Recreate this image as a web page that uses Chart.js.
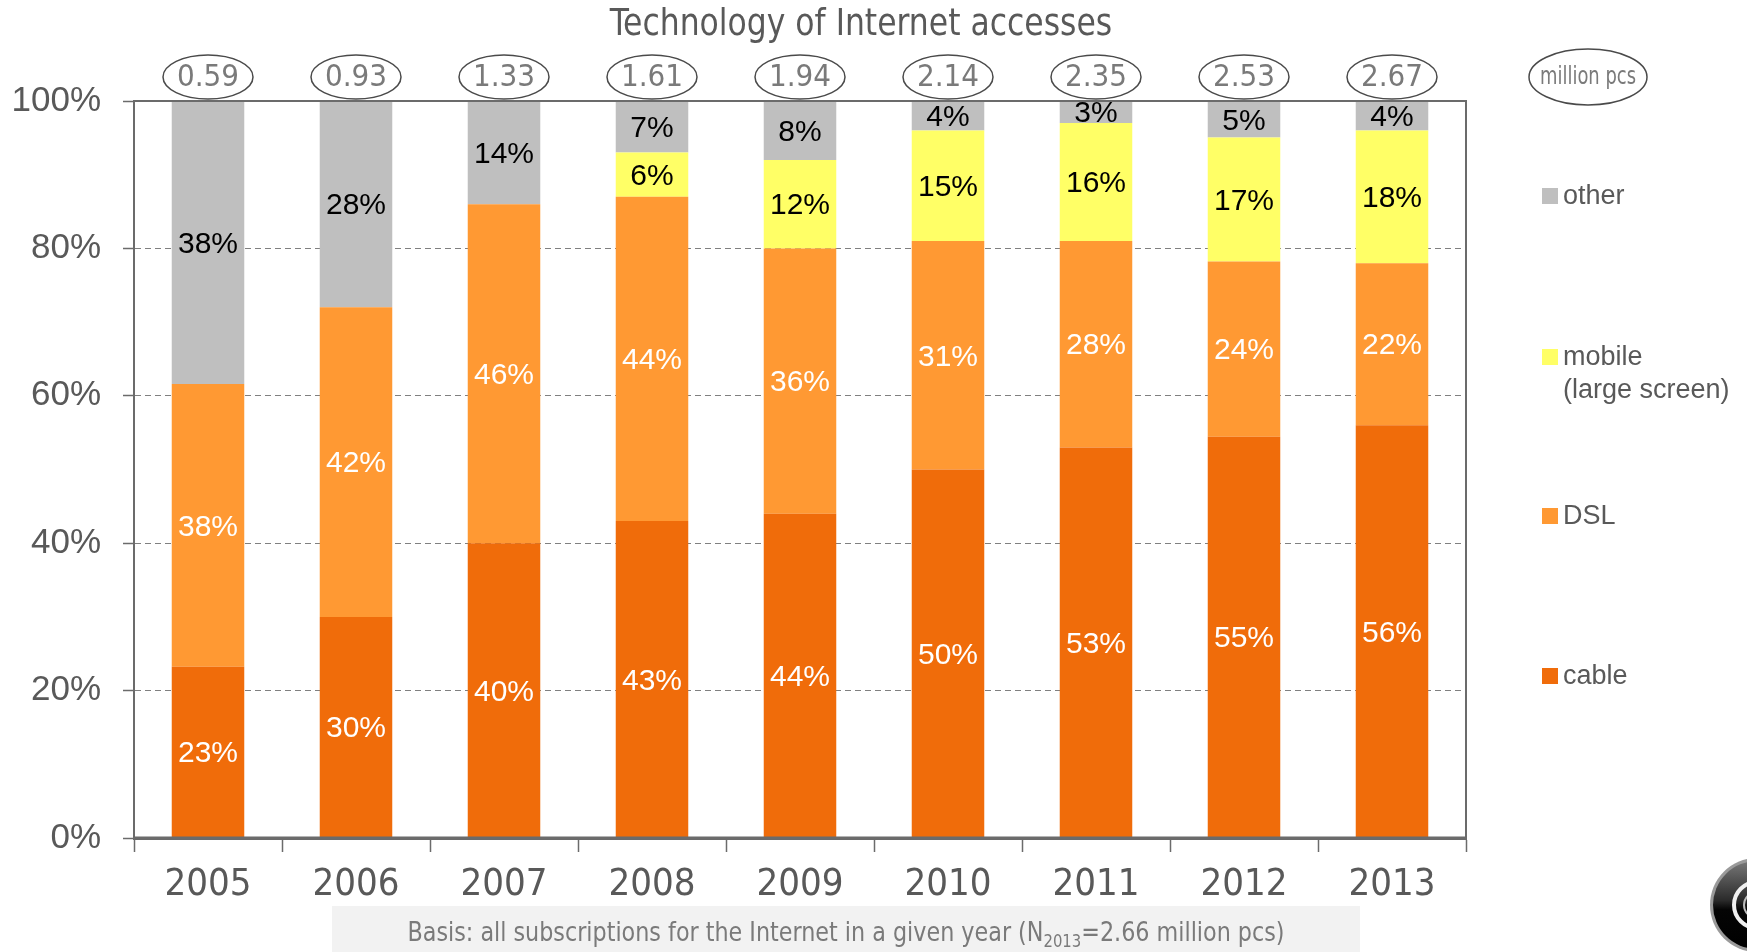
<!DOCTYPE html>
<html>
<head>
<meta charset="utf-8">
<title>Technology of Internet accesses</title>
<script src="https://cdn.jsdelivr.net/npm/chart.js@4.4.1/dist/chart.umd.min.js"></script>
<style>
  html, body { margin: 0; padding: 0; background: #ffffff; }
  canvas { display: block; }
</style>
</head>
<body>
<canvas id="chart" width="1747" height="952"></canvas>
<script>
// Years shown on the category axis
const years = ['2005', '2006', '2007', '2008', '2009', '2010', '2011', '2012', '2013'];
// Total number of subscriptions per year, million pcs
const totalsMillion = [0.59, 0.93, 1.33, 1.61, 1.94, 2.14, 2.35, 2.53, 2.67];
// Share of each access technology per year, %
const cableShare  = [23, 30, 40, 43, 44, 50, 53, 55, 56];
const dslShare    = [38, 42, 46, 44, 36, 31, 28, 24, 22];
const mobileShare = [0, 0, 0, 6, 12, 15, 16, 17, 18];
const otherShare  = [38, 28, 14, 7, 8, 4, 3, 5, 4];
// Value axis ticks, %
const yTicks = [0, 20, 40, 60, 80, 100];

const NARROW = '"DejaVu Sans Condensed", "Liberation Sans", sans-serif';
const SANS = '"Liberation Sans", Arial, sans-serif';
const AXIS = '#6b6b6b';
const TEXT = '#595959';

// 100% stacked columns: every year's bar is scaled to the full height
const yearSums = years.map((_, i) => cableShare[i] + dslShare[i] + mobileShare[i] + otherShare[i]);
const toStackShare = arr => arr.map((v, i) => v / yearSums[i] * 100);

const series = [
  { label: 'cable',  legend: ['cable'], values: cableShare,  color: '#F06C0A', text: '#ffffff' },
  { label: 'DSL',    legend: ['DSL'], values: dslShare,    color: '#FF9933', text: '#ffffff' },
  { label: 'mobile (large screen)', legend: ['mobile', '(large screen)'], values: mobileShare, color: '#FFFF66', text: '#000000' },
  { label: 'other',  legend: ['other'], values: otherShare,  color: '#BFBFBF', text: '#000000' }
];

const datasets = series.map(s => ({
  label: s.label,
  data: toStackShare(s.values),
  raw: s.values,
  legendLines: s.legend,
  labelColor: s.text,
  backgroundColor: s.color,
  borderWidth: 0,
  barPercentage: 0.49,
  categoryPercentage: 1.0
}));

function drawEllipse(ctx, cx, cy, rx, ry) {
  ctx.beginPath();
  ctx.ellipse(cx, cy, rx, ry, 0, 0, Math.PI * 2);
  ctx.stroke();
}

// text squeezed horizontally around its anchor point
function fillSqueezed(ctx, text, x, y, sx) {
  ctx.save();
  ctx.translate(x, y);
  ctx.scale(sx, 1);
  ctx.fillText(text, 0, 0);
  ctx.restore();
}

const decorations = {
  id: 'decorations',
  afterDatasetsDraw(chart) {
    const ctx = chart.ctx;
    ctx.save();
    ctx.font = '30px ' + SANS;
    ctx.textAlign = 'center';
    ctx.textBaseline = 'middle';
    chart.data.datasets.forEach((ds, di) => {
      const meta = chart.getDatasetMeta(di);
      meta.data.forEach((bar, i) => {
        const v = ds.raw[i];
        if (!v) return;
        ctx.fillStyle = ds.labelColor;
        ctx.fillText(v + '%', bar.x, (bar.y + bar.base) / 2 + 2);
      });
    });
    ctx.restore();
  },
  afterDraw(chart) {
    const { ctx, chartArea: a, scales: { x } } = chart;
    ctx.save();

    // plot frame
    ctx.strokeStyle = AXIS;
    ctx.lineWidth = 2;
    ctx.beginPath();
    ctx.moveTo(a.left, a.bottom);
    ctx.lineTo(a.left, a.top);
    ctx.lineTo(a.right, a.top);
    ctx.lineTo(a.right, a.bottom);
    ctx.stroke();
    ctx.lineWidth = 3;
    ctx.beginPath();
    ctx.moveTo(a.left - 1, a.bottom);
    ctx.lineTo(a.right + 1, a.bottom);
    ctx.stroke();

    // title
    ctx.fillStyle = TEXT;
    ctx.font = '38px ' + NARROW;
    ctx.textAlign = 'center';
    ctx.textBaseline = 'middle';
    fillSqueezed(ctx, 'Technology of Internet accesses', 861, 25, 0.92);

    // yearly totals in ellipses
    ctx.strokeStyle = '#4a4a4a';
    ctx.lineWidth = 1.5;
    ctx.font = '31px ' + NARROW;
    totalsMillion.forEach((t, i) => {
      const cx = x.getPixelForValue(i);
      drawEllipse(ctx, cx, 77, 45, 22);
      ctx.fillStyle = '#7a7a7a';
      ctx.fillText(t.toFixed(2), cx, 78);
    });
    drawEllipse(ctx, 1588, 77, 59, 28);
    ctx.font = '24px ' + NARROW;
    fillSqueezed(ctx, 'million pcs', 1588, 78, 0.83);

    // legend, top to bottom in stack order
    const legendRows = [196, 357, 516, 676];
    const ordered = chart.data.datasets.slice().reverse();
    ctx.textAlign = 'left';
    ctx.font = '27px ' + SANS;
    ordered.forEach((ds, k) => {
      const y = legendRows[k];
      ctx.fillStyle = ds.backgroundColor;
      ctx.fillRect(1542, y - 8, 16, 16);
      ctx.fillStyle = TEXT;
      ds.legendLines.forEach((line, j) => {
        ctx.fillText(line, 1563, y + 1 + j * 33);
      });
    });

    // footnote
    ctx.fillStyle = '#f2f2f2';
    ctx.fillRect(332, 906, 1028, 46);
    const sq = 0.917;
    const partA = 'Basis: all subscriptions for the Internet in a given year (N';
    const partSub = '2013';
    const partB = '=2.66 million pcs)';
    const mainFont = '27px ' + NARROW;
    const subFont = '18px ' + NARROW;
    ctx.font = mainFont;
    const wA = ctx.measureText(partA).width * sq;
    const wB = ctx.measureText(partB).width * sq;
    ctx.font = subFont;
    const wS = ctx.measureText(partSub).width * sq;
    let fx = 846 - (wA + wS + wB) / 2;
    ctx.fillStyle = '#7a7a7a';
    ctx.textBaseline = 'middle';
    ctx.font = mainFont;
    fillSqueezed(ctx, partA, fx, 934, sq);
    fx += wA;
    ctx.font = subFont;
    fillSqueezed(ctx, partSub, fx, 942, sq);
    fx += wS;
    ctx.font = mainFont;
    fillSqueezed(ctx, partB, fx, 934, sq);

    // round emblem in the corner
    const lx = 1757, ly = 905;
    ctx.beginPath();
    ctx.arc(lx, ly, 47, 0, Math.PI * 2);
    ctx.fillStyle = '#9a9a9a';
    ctx.fill();
    const g = ctx.createLinearGradient(lx, ly - 45, lx, ly + 45);
    g.addColorStop(0, '#7a7a7a');
    g.addColorStop(0.45, '#2a2a2a');
    g.addColorStop(0.55, '#050505');
    g.addColorStop(1, '#000000');
    ctx.beginPath();
    ctx.arc(lx, ly, 44, 0, Math.PI * 2);
    ctx.fillStyle = g;
    ctx.fill();
    ctx.beginPath();
    ctx.arc(lx, ly, 23, 0, Math.PI * 2);
    ctx.strokeStyle = '#f0f0f0';
    ctx.lineWidth = 4;
    ctx.stroke();
    ctx.beginPath();
    ctx.arc(lx, ly, 13, 0, Math.PI * 2);
    ctx.strokeStyle = '#bdbdbd';
    ctx.lineWidth = 2;
    ctx.stroke();

    ctx.restore();
  }
};

new Chart(document.getElementById('chart'), {
  type: 'bar',
  data: { labels: years, datasets },
  plugins: [decorations],
  options: {
    responsive: false,
    animation: false,
    devicePixelRatio: 1,
    layout: { padding: { top: 101, right: 281, left: 0, bottom: 0 } },
    plugins: {
      legend: { display: false },
      title: { display: false },
      tooltip: { enabled: false }
    },
    scales: {
      x: {
        stacked: true,
        offset: true,
        grid: {
          offset: true,
          drawOnChartArea: false,
          drawTicks: true,
          tickLength: 14,
          tickColor: AXIS,
          tickWidth: 1.5
        },
        border: { display: true, color: AXIS, width: 3 },
        ticks: {
          color: TEXT,
          font: { family: NARROW, size: 38 },
          padding: 10,
          maxRotation: 0
        },
        afterFit(scale) { scale.height = 114; }
      },
      y: {
        stacked: true,
        min: 0,
        max: 100,
        afterBuildTicks(scale) { scale.ticks = yTicks.map(v => ({ value: v })); },
        grid: {
          color: ctx => (ctx.tick && (ctx.tick.value === 0 || ctx.tick.value === 100)) ? 'rgba(0,0,0,0)' : '#808080',
          lineWidth: 1,
          drawTicks: true,
          tickLength: 11,
          tickColor: AXIS,
          tickWidth: 1.5,
          tickBorderDash: []
        },
        border: { display: true, color: AXIS, width: 2, dash: [6, 4] },
        ticks: {
          color: TEXT,
          font: { family: SANS, size: 35 },
          padding: 22,
          callback: v => v + '%'
        },
        afterFit(scale) { scale.width = 134; }
      }
    }
  }
});
</script>
</body>
</html>
